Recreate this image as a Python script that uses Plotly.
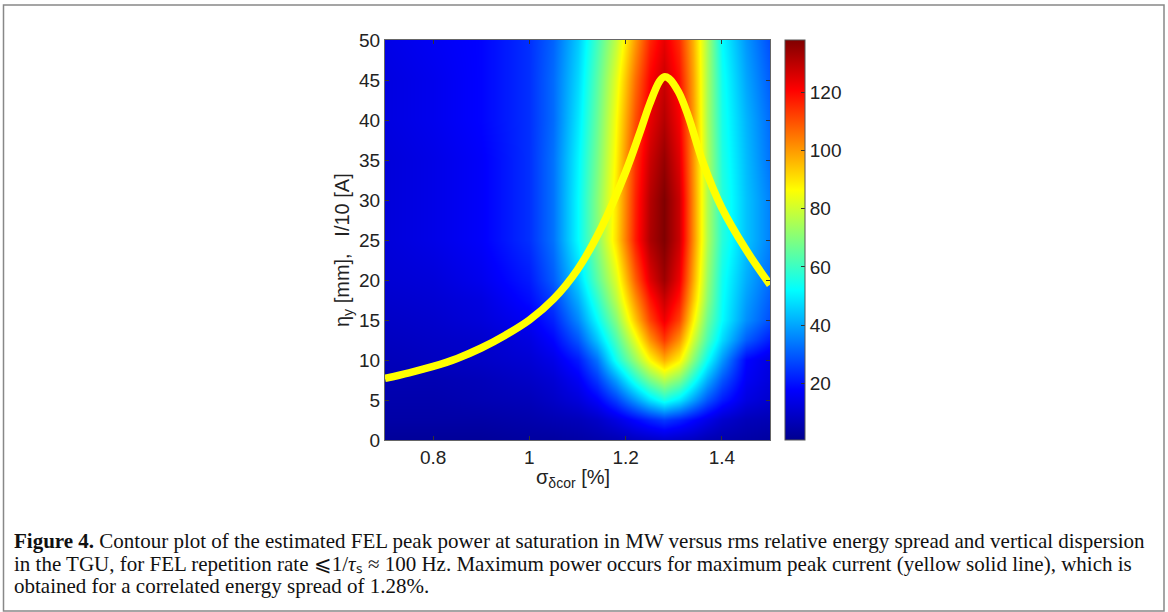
import plotly.graph_objects as go

# ---------------- data ----------------
sigma_cor = [0.70, 0.80, 0.90, 1.00, 1.05, 1.10, 1.14, 1.18, 1.22, 1.25, 1.28, 1.31, 1.34, 1.37, 1.40, 1.45, 1.50]
eta_y = [0, 2.5, 5, 7.5, 10, 12.5, 15, 17.5, 20, 25, 30, 35, 40, 45, 50]

power_rows = [
    [2, 2, 2, 3, 3, 4, 5, 6, 8, 9, 10, 9, 8, 6, 5, 4, 3],                          # y=0
    [4, 4, 4, 5, 6, 7, 9, 13, 18, 22, 25, 22, 18, 14, 10, 7, 6],                   # y=2.5
    [5, 5, 6, 7, 9, 12, 17, 26, 38, 48, 55, 49, 39, 29, 21, 13, 10],               # y=5
    [6, 6, 7, 9, 11, 16, 25, 39, 56, 68, 76, 69, 55, 41, 29, 16, 12],              # y=7.5
    [7, 8, 9, 11, 14, 21, 33, 54, 72, 87, 97, 88, 70, 53, 38, 18, 13],             # y=10
    [8, 9, 10, 13, 18, 29, 44, 62, 83, 101, 113, 101, 80, 62, 47, 30, 21],         # y=12.5
    [9, 10, 12, 16, 22, 36, 52, 70, 94, 112, 123, 112, 88, 67, 52, 37, 28],        # y=15
    [10, 11, 13, 19, 26, 41, 58, 77, 101, 118, 128, 118, 94, 71, 53, 39, 30],      # y=17.5
    [11, 12, 15, 21, 30, 46, 64, 82, 108, 125, 134, 123, 98, 73, 54, 41, 32],      # y=20
    [12, 14, 17, 24, 33, 52, 70, 91, 117, 132, 138, 128, 102, 76, 57, 44, 35],     # y=25
    [12, 14, 17, 24, 33, 52, 70, 90, 116, 131, 138, 128, 102, 76, 57, 44, 35],     # y=30
    [12, 14, 17, 24, 33, 51, 68, 88, 114, 128, 135, 125, 101, 76, 56, 43, 33],     # y=35
    [13, 15, 18, 24, 32, 49, 66, 86, 110, 124, 131, 122, 100, 75, 55, 42, 32],     # y=40
    [13, 15, 18, 24, 32, 47, 64, 83, 106, 121, 128, 119, 99, 75, 54, 40, 30],      # y=45
    [14, 16, 18, 24, 31, 45, 61, 78, 100, 116, 124, 115, 97, 75, 52, 38, 28],      # y=50
]

line_x = [0.70, 0.75, 0.80, 0.85, 0.90, 0.95, 1.00, 1.05, 1.10, 1.15, 1.20, 1.23, 1.25,
          1.27, 1.28, 1.29, 1.31, 1.33, 1.36, 1.40, 1.45, 1.50]
line_y = [7.7, 8.4, 9.2, 10.2, 11.5, 13.1, 15.0, 17.6, 21.3, 26.6, 33.5, 38.5, 42.0,
          44.8, 45.4, 45.2, 43.5, 40.5, 34.8, 29.0, 23.8, 19.4]

cbar_ticks = [20, 40, 60, 80, 100, 120]
x_ticks = [0.8, 1.0, 1.2, 1.4]
x_ticklabels = ["0.8", "1", "1.2", "1.4"]
y_ticks = [0, 5, 10, 15, 20, 25, 30, 35, 40, 45, 50]

caption_lines = [
    "<b>Figure 4.</b> Contour plot of the estimated FEL peak power at saturation in MW versus rms relative energy spread and vertical dispersion",
    "in the TGU, for FEL repetition rate ⩽1/<i>τ</i>ₛ ≈ 100 Hz. Maximum power occurs for maximum peak current (yellow solid line), which is",
    "obtained for a correlated energy spread of 1.28%.",
]

# ---------------- figure ----------------
jet = [
    [0.0, "rgb(0,0,143)"],
    [0.125, "rgb(0,0,255)"],
    [0.375, "rgb(0,255,255)"],
    [0.625, "rgb(255,255,0)"],
    [0.875, "rgb(255,0,0)"],
    [1.0, "rgb(128,0,0)"],
]

W, H = 1168, 612
L, R, T, B = 385, 398, 40, 172
pw = W - L - R
ph = H - T - B


def px2paper_x(px):
    return (px - L) / pw


def px2paper_y(py):
    return (H - B - py) / ph


fig = go.Figure()
fig.add_trace(go.Heatmap(
    x=sigma_cor, y=eta_y, z=power_rows,
    colorscale=jet, zmin=0.5, zmax=138, zsmooth="best",
    colorbar=dict(
        x=px2paper_x(785), xanchor="left", y=0.5, yanchor="middle",
        len=1.0, lenmode="fraction", thickness=20, thicknessmode="pixels",
        outlinecolor="#555", outlinewidth=1,
        tickvals=cbar_ticks, ticks="inside", ticklen=4, tickcolor="#333",
        tickfont=dict(family="Liberation Sans, Arial", size=19, color="#222"),
        xpad=0, ypad=0,
    ),
    hoverinfo="skip",
))
fig.add_trace(go.Scatter(
    x=line_x, y=line_y, mode="lines",
    line=dict(color="rgb(255,255,0)", width=7.5, shape="spline", smoothing=1.0),
    hoverinfo="skip", showlegend=False,
))

axis_font = dict(family="Liberation Sans, Arial", size=19, color="#222")
fig.update_xaxes(
    range=[0.7, 1.5], tickvals=x_ticks, ticktext=x_ticklabels,
    ticks="inside", ticklen=4, tickcolor="#333", showline=True, mirror="ticks",
    linecolor="#666", linewidth=1, showgrid=False, zeroline=False,
    tickfont=axis_font,
)
fig.update_yaxes(
    range=[0, 50], tickvals=y_ticks,
    ticks="inside", ticklen=4, tickcolor="#333", showline=True, mirror="ticks",
    linecolor="#666", linewidth=1, showgrid=False, zeroline=False,
    tickfont=axis_font,
)

title_font = dict(family="Liberation Sans, Arial", size=20, color="#222")
annotations = [
    dict(text="σ<sub>δcor</sub> [%]", x=px2paper_x(573), y=px2paper_y(478),
         xref="paper", yref="paper", showarrow=False, font=title_font,
         xanchor="center", yanchor="middle"),
    dict(text="η<sub>y</sub> [mm],&nbsp;&nbsp; I/10 [A]", x=px2paper_x(343), y=px2paper_y(250),
         xref="paper", yref="paper", showarrow=False, font=title_font, textangle=-90,
         xanchor="center", yanchor="middle"),
]
cap_font = dict(family="Liberation Serif, Times New Roman, serif", size=21, color="#111")
for i, t in enumerate(caption_lines):
    annotations.append(dict(
        text=t, x=px2paper_x(12), y=px2paper_y(541 + 22.5 * i),
        xref="paper", yref="paper", showarrow=False, font=cap_font,
        xanchor="left", yanchor="middle", align="left",
    ))

fig.update_layout(
    width=W, height=H,
    margin=dict(l=L, r=R, t=T, b=B, pad=0),
    paper_bgcolor="white", plot_bgcolor="white",
    annotations=annotations,
    shapes=[dict(type="rect", xref="paper", yref="paper",
                 x0=px2paper_x(3.5), x1=px2paper_x(1164), y0=px2paper_y(5), y1=px2paper_y(611),
                 line=dict(color="#888", width=1.5), fillcolor="rgba(0,0,0,0)", layer="below")],
    showlegend=False,
)

fig.write_html("out.html", config={"displayModeBar": False},
               post_script="document.body.style.margin='0px';")
